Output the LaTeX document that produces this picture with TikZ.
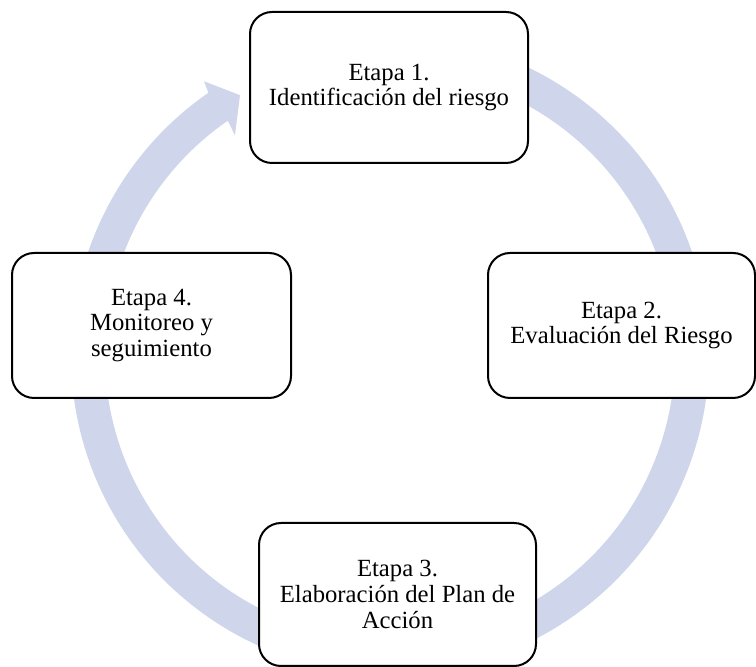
\documentclass[tikz,border=0pt]{standalone}
\usepackage{fontspec}
\setmainfont{Liberation Serif}
\definecolor{ringblue}{RGB}{207,213,234}

\begin{document}
\begin{tikzpicture}[x=1pt,y=1pt,
  etapa/.style={draw=black, fill=white, line width=2pt, rounded corners=22pt,
    align=center, font=\fontsize{24.7}{25.6}\selectfont}]
\useasboundingbox (0,0) rectangle (756,667);
% circular arrow behind the boxes
\fill[ringblue, shift={(390,312)}] (95:319) arc[start angle=95, end angle=-235.3, radius=319]
  -- (-235.8:331) -- (-240:300) -- (-234.8:269) -- (-235.3:285)
  arc[start angle=-235.3, end angle=95, radius=285] -- cycle;
\node[etapa, minimum width=278, minimum height=151] (etapa1) at (389,579.5) {Etapa 1.\\Identificación del riesgo};
\node[etapa, minimum width=267, minimum height=145] (etapa2) at (621.5,341.5) {Etapa 2.\\Evaluación del Riesgo};
\node[etapa, minimum width=277, minimum height=143] (etapa3) at (397.5,72.5) {Etapa 3.\\Elaboración del Plan de\\Acción};
\node[etapa, minimum width=279, minimum height=145] (etapa4) at (151.5,341.5) {Etapa 4.\\Monitoreo y\\seguimiento};
\end{tikzpicture}
\end{document}
